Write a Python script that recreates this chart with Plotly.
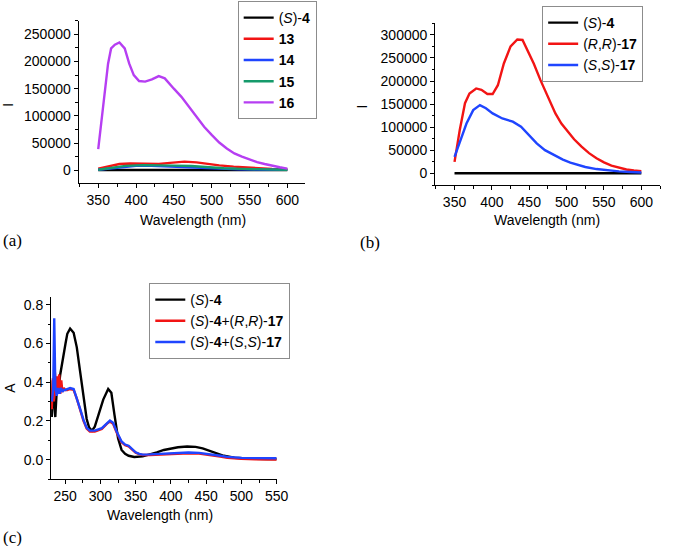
import plotly.graph_objects as go

W, H = 673, 546

# ---------------- Panel (a): emission spectra ----------------
a_x_s4 = [350, 400, 450, 500, 550, 600]
a_y_s4 = [500, 800, 700, 500, 300, 200]

a_x_13 = [350, 360, 370, 378, 392, 410, 430, 445, 464, 480, 494, 510, 529, 545, 559, 580, 600]
a_y_13 = [3000, 6500, 9500, 11500, 12500, 11500, 11500, 13500, 15800, 14500, 11500, 9000, 6600, 5000, 3700, 2500, 1800]

a_x_14 = [350, 365, 386, 400, 412, 430, 451, 470, 494, 515, 536, 560, 600]
a_y_14 = [1000, 3500, 6500, 8000, 8500, 7500, 6000, 4500, 3000, 2200, 1800, 1200, 800]

a_x_15 = [350, 365, 386, 410, 430, 450, 473, 495, 516, 540, 559, 580, 600]
a_y_15 = [1000, 4500, 8000, 9500, 9500, 8500, 7700, 5500, 3700, 2500, 1800, 1200, 800]

a_x_16 = [350, 354, 359, 363, 367, 372, 378, 385, 391, 397, 404, 412, 421, 430, 438, 445, 450,
          460, 470, 480, 490, 500, 510, 520, 530, 540, 550, 560, 570, 580, 590, 600]
a_y_16 = [39000, 90000, 147000, 196000, 224000, 231000, 235000, 224000, 196000, 175000, 164000,
          163000, 167000, 173000, 169000, 157000, 150000, 135000, 117000, 98000, 80000, 65000,
          51000, 40000, 31000, 25000, 20000, 15000, 11500, 8000, 5500, 3000]

# ---------------- Panel (b): emission spectra ----------------
b_x_s4 = [350, 400, 450, 500, 550, 600]
b_y_s4 = [500, 500, 500, 400, 300, 300]

b_x_rr = [350, 357, 364, 370, 379, 386, 394, 401, 408, 416, 425, 434, 441, 447, 456, 465, 474,
          485, 493, 500, 510, 520, 530, 540, 550, 560, 570, 580, 590, 600]
b_y_rr = [25000, 94000, 152000, 173000, 184000, 181000, 172000, 172000, 191000, 238000, 275000,
          290000, 289000, 270000, 238000, 202000, 168000, 130000, 108000, 93000, 74000, 58000,
          44000, 33000, 24000, 17000, 12000, 8500, 6500, 5000]

b_x_ss = [350, 357, 366, 375, 384, 392, 401, 414, 428, 439, 450, 460, 471, 485, 495, 505, 515,
          525, 540, 555, 570, 585, 600]
b_y_ss = [36000, 68500, 108000, 137000, 148000, 141000, 130000, 119000, 112000, 101000, 83000,
          65000, 50500, 37500, 30000, 23500, 18000, 14000, 9500, 6500, 4500, 3000, 2000]

# ---------------- Panel (c): absorption spectra ----------------
c_x_s4 = [231, 232.5, 234, 236, 238.5, 241, 243, 245.5, 248, 250.5, 253, 257, 262, 266.5, 271,
          276, 280.5, 284, 288, 292, 298, 304, 311, 315.5, 320, 325, 330, 335, 340, 348, 360, 370,
          380, 390, 400, 410, 423, 435, 445, 455, 465, 475, 490, 505, 520, 535, 550]
c_y_s4 = [0.22, 0.41, 0.30, 0.22, 0.39, 0.38, 0.44, 0.50, 0.565, 0.60, 0.65, 0.677, 0.655, 0.58,
          0.46, 0.32, 0.21, 0.165, 0.15, 0.17, 0.24, 0.31, 0.365, 0.345, 0.23, 0.11, 0.05, 0.03,
          0.02, 0.014, 0.017, 0.026, 0.038, 0.05, 0.058, 0.064, 0.068, 0.066, 0.058, 0.045, 0.032,
          0.02, 0.01, 0.006, 0.004, 0.003, 0.003]

c_x_rr = [231, 232.5, 234, 235.5, 237, 238.5, 240, 241.5, 243, 244.5, 246, 248, 250, 253, 257,
          262, 266.5, 271, 276, 280.5, 285, 292, 302, 309, 313.5, 318, 323, 330, 335, 340, 345,
          350, 355, 360, 370, 380, 390, 400, 410, 425, 440, 450, 460, 470, 480, 490, 500, 520, 550]
c_y_rr = [0.26, 0.42, 0.30, 0.45, 0.33, 0.43, 0.36, 0.44, 0.34, 0.41, 0.35, 0.37, 0.36, 0.36,
          0.365, 0.36, 0.315, 0.26, 0.2, 0.16, 0.145, 0.145, 0.158, 0.185, 0.197, 0.185, 0.14,
          0.09, 0.075, 0.068, 0.052, 0.036, 0.028, 0.024, 0.024, 0.026, 0.028, 0.03, 0.032,
          0.033, 0.031, 0.027, 0.022, 0.016, 0.01, 0.006, 0.004, 0.002, 0.001]

c_x_ss = [231, 233, 234.5, 236, 238, 240, 242, 244, 246, 248, 250, 253, 257, 262, 266.5, 271,
          276, 280.5, 285, 292, 302, 309, 313.5, 318, 323, 330, 335, 340, 345, 350, 355, 360,
          370, 380, 390, 400, 410, 425, 440, 450, 460, 470, 480, 490, 500, 520, 550]
c_y_ss = [0.30, 0.36, 0.73, 0.38, 0.33, 0.37, 0.34, 0.37, 0.35, 0.36, 0.36, 0.365, 0.37, 0.365,
          0.32, 0.265, 0.205, 0.165, 0.15, 0.15, 0.163, 0.19, 0.202, 0.19, 0.145, 0.094, 0.078,
          0.072, 0.055, 0.038, 0.03, 0.026, 0.027, 0.029, 0.031, 0.034, 0.036, 0.037, 0.035,
          0.031, 0.026, 0.02, 0.014, 0.011, 0.009, 0.008, 0.007]

# labels
lab_s4 = "(<i>S</i>)-<b>4</b>"
a_labels = [lab_s4, "<b>13</b>", "<b>14</b>", "<b>15</b>", "<b>16</b>"]
b_labels = [lab_s4, "(<i>R</i>,<i>R</i>)-<b>17</b>", "(<i>S</i>,<i>S</i>)-<b>17</b>"]
c_labels = [lab_s4, "(<i>S</i>)-<b>4</b>+(<i>R</i>,<i>R</i>)-<b>17</b>",
            "(<i>S</i>)-<b>4</b>+(<i>S</i>,<i>S</i>)-<b>17</b>"]

BLACK, RED, BLUE, GREEN, PURPLE = "#000000", "#f21414", "#1f45ff", "#159a6b", "#b63ef2"
LW = 2.4
FONT = "Arial, Liberation Sans, sans-serif"

fig = go.Figure()

def add(x, y, name, color, xa, ya, leg):
    fig.add_trace(go.Scatter(x=x, y=y, name=name, mode="lines",
                             line=dict(color=color, width=LW),
                             xaxis=xa, yaxis=ya, legend=leg))

add(a_x_s4, a_y_s4, a_labels[0], BLACK, "x", "y", "legend")
add(a_x_13, a_y_13, a_labels[1], RED, "x", "y", "legend")
add(a_x_14, a_y_14, a_labels[2], BLUE, "x", "y", "legend")
add(a_x_15, a_y_15, a_labels[3], GREEN, "x", "y", "legend")
add(a_x_16, a_y_16, a_labels[4], PURPLE, "x", "y", "legend")

add(b_x_s4, b_y_s4, b_labels[0], BLACK, "x2", "y2", "legend2")
add(b_x_rr, b_y_rr, b_labels[1], RED, "x2", "y2", "legend2")
add(b_x_ss, b_y_ss, b_labels[2], BLUE, "x2", "y2", "legend2")

add(c_x_s4, c_y_s4, c_labels[0], BLACK, "x3", "y3", "legend3")
add(c_x_rr, c_y_rr, c_labels[1], RED, "x3", "y3", "legend3")
add(c_x_ss, c_y_ss, c_labels[2], BLUE, "x3", "y3", "legend3")

def px(x):
    return x / W

def py(y):
    return 1 - y / H

axis_common = dict(showline=True, linecolor="black", linewidth=1, ticks="outside",
                   ticklen=4, tickwidth=1, tickcolor="black", showgrid=False,
                   zeroline=False, tickfont=dict(family=FONT, size=14, color="black"))

def xax(domain, rng, anchor, dtick, minor):
    d = dict(axis_common)
    d.update(domain=domain, range=rng, anchor=anchor, dtick=dtick, tick0=0,
             minor=dict(ticks="outside", ticklen=2.5, dtick=minor, tick0=0,
                        tickcolor="black", showgrid=False))
    return d

def yax(domain, rng, anchor, dtick, minor, fmt):
    d = dict(axis_common)
    d.update(domain=domain, range=rng, anchor=anchor, dtick=dtick, tick0=0,
             tickformat=fmt,
             minor=dict(ticks="outside", ticklen=2.5, dtick=minor, tick0=0,
                        tickcolor="black", showgrid=False))
    return d

legend_common = dict(bgcolor="white", bordercolor="#8c8c8c", borderwidth=1,
                     font=dict(family=FONT, size=14, color="black"),
                     xanchor="left", yanchor="top", tracegroupgap=0,
                     itemclick=False, itemdoubleclick=False)

fig.update_layout(
    width=W, height=H, margin=dict(l=0, r=0, t=0, b=0),
    paper_bgcolor="white", plot_bgcolor="white", showlegend=True,
    font=dict(family=FONT, size=14, color="black"),
    xaxis=xax([px(80), px(311)], [324, 624], "y", 50, 25),
    yaxis=yax([py(183.3), py(20.7)], [-24000, 275000], "x", 50000, 25000, "d"),
    xaxis2=xax([px(443), px(672)], [324, 625], "y2", 50, 25),
    yaxis2=yax([py(185), py(23.3)], [-25000, 325000], "x2", 50000, 25000, "d"),
    xaxis3=xax([px(52), px(281.7)], [230, 550], "y3", 50, 25),
    yaxis3=yax([py(479), py(297)], [-0.1, 0.84], "x3", 0.2, 0.1, ".1f"),
    legend=dict(legend_common, x=px(242), y=py(1)),
    legend2=dict(legend_common, x=px(552), y=py(6)),
    legend3=dict(legend_common, x=px(152), y=py(283)),
)

def ann(x, y, text, size=14, angle=0, xanchor="center", family=FONT):
    fig.add_annotation(x=px(x), y=py(y), xref="paper", yref="paper", text=text,
                       showarrow=False, textangle=angle, xanchor=xanchor, yanchor="middle",
                       font=dict(family=family, size=size, color="black"))

SERIF = "Times New Roman, Liberation Serif, serif"
ann(197, 220, "Wavelength (nm)")
ann(8, 105, "I", angle=-90)
ann(1, 240, "(a)", size=17, xanchor="left", family=SERIF)

ann(557, 220, "Wavelength (nm)")
ann(369, 106, "I", angle=-90)
ann(364, 242, "(b)", size=17, xanchor="left", family=SERIF)

ann(163, 515, "Wavelength (nm)")
ann(10, 388, "A", angle=-90)
ann(1, 537, "(c)", size=17, xanchor="left", family=SERIF)

fig.write_html("out.html", config={"displayModeBar": False},
               post_script="document.body.style.margin='0px';document.body.style.overflow='hidden';")
